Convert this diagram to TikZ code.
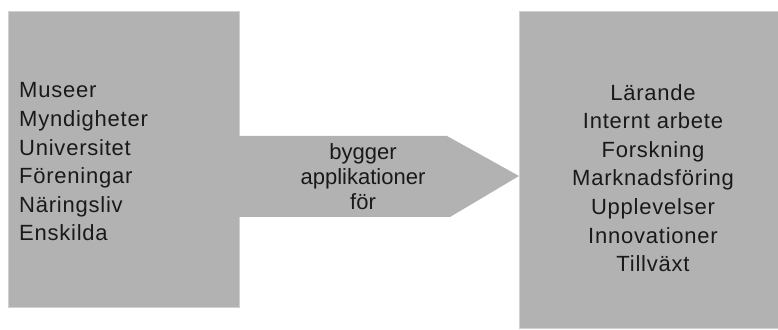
\documentclass[tikz,border=0pt]{standalone}
\usepackage{fontspec}
\setmainfont{Liberation Sans}
\newfontfamily\spacedfont[LetterSpace=3.5]{Liberation Sans}
\definecolor{boxgray}{RGB}{178,178,178}
\definecolor{edgegray}{RGB}{208,208,208}
\definecolor{inkgray}{RGB}{25,25,25}
\begin{document}
\begin{tikzpicture}[x=1pt,y=1pt]
\tikzset{
  panel/.style={fill=boxgray, draw=edgegray, line width=0.8pt, inner sep=0pt},
  bigtxt/.style={font=\spacedfont\fontsize{22}{28.6}\selectfont, text=inkgray, inner sep=0pt},
  arrowtxt/.style={font=\fontsize{22}{25}\selectfont, text=inkgray, inner sep=0pt, align=center}
}
\useasboundingbox (0,0) rectangle (778,329);
\node[panel, anchor=south west, minimum width=231, minimum height=296] (src) at (8,21) {};
\node[panel, anchor=south west, minimum width=260, minimum height=317] (dst) at (519,0) {};
\fill[boxgray] (238,112) -- (238,193) -- (447,193) -- (dst.west |- 0,153) -- (450,112) -- cycle;
\node[bigtxt, align=left, anchor=west] (srclist) at (19,167) {Museer\\Myndigheter\\Universitet\\Föreningar\\Näringsliv\\Enskilda};
\node[bigtxt, align=center] (dstlist) at (653,151) {Lärande\\Internt arbete\\Forskning\\Marknadsföring\\Upplevelser\\Innovationer\\Tillväxt};
\node[arrowtxt] (lbl) at (363,152) {bygger\\applikationer\\för};
\end{tikzpicture}
\end{document}
